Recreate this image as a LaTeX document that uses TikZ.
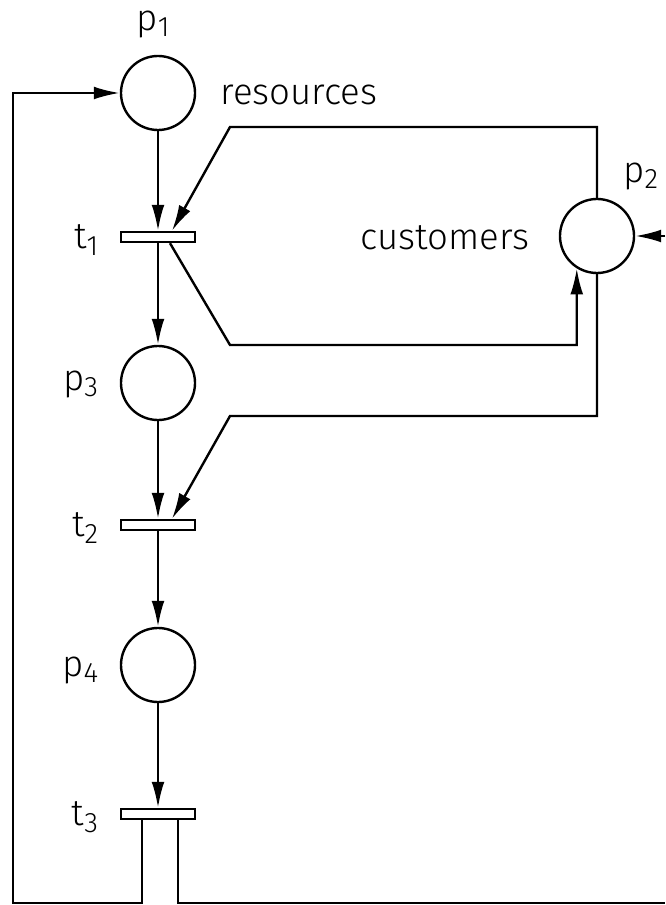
\documentclass[tikz,border=0pt]{standalone}
\usepackage{fontspec}
\setmainfont{Fira Sans}[UprightFont=* Light]
\usetikzlibrary{arrows.meta}
\newcommand\sbs[1]{\raisebox{-0.35ex}{\fontsize{20}{20}\selectfont #1}}

\begin{document}
\begin{tikzpicture}[x=0.025cm, y=-0.025cm, line width=1.7pt,
  place/.style={circle,draw,minimum size=1.85cm,inner sep=0pt},
  trans/.style={rectangle,draw,fill=white,minimum width=1.85cm,minimum height=0.25cm,inner sep=0pt},
  arc/.style={-{Latex[length=0.65cm,width=0.32cm]}},
  lab/.style={font=\fontsize{26}{30}\selectfont}]
  % Figure: resources and customers
  \useasboundingbox (0,0) rectangle (665,905);
  \node[place] (p1) at (158,93) {};
  \node[trans] (t1) at (158,237) {};
  \node[place] (p3) at (158,383) {};
  \node[trans] (t2) at (158,525) {};
  \node[place] (p4) at (158,665) {};
  \node[trans] (t3) at (158,814) {};
  \node[place] (p2) at (597,236) {};
  % Labels
  \node[lab] (lp1) at (153,24) {p\sbs{1}};
  \node[lab,anchor=east] (lp2) at (664,176) {p\sbs{2}};
  \node[lab,anchor=east] (lt1) at (104,240) {t\sbs{1}};
  \node[lab,anchor=east] (lp3) at (104,384) {p\sbs{3}};
  \node[lab,anchor=east] (lt2) at (104,528) {t\sbs{2}};
  \node[lab,anchor=east] (lp4) at (104,670) {p\sbs{4}};
  \node[lab,anchor=east] (lt3) at (104,817) {t\sbs{3}};
  \node[lab] (res) at (299,95) {resources};
  \node[lab] (cus) at (445,238) {customers};
  % Corners
  \coordinate (c1) at (230,127);
  \coordinate (c3) at (230,345);
  \coordinate (c4) at (230,416);
  \coordinate (c5) at (13,903);
  \coordinate (c6) at (665,903);
  \coordinate (c7) at (665,236);
  % Main chain
  \foreach \a/\b in {p1/t1, t1/p3, p3/t2, t2/p4, p4/t3} {
    \draw[arc] (\a) -- (\b);
  }
  % Customers loop
  \draw[arc] (p2.north) |- (c1) -- ([xshift=0.35cm]t1.north);
  \draw[arc] ([xshift=0.3cm]t1.south) -- (c3) -| (p2.-122);
  \draw[arc] (p2.south) |- (c4) -- ([xshift=0.35cm]t2.north);
  \draw[arc] (c7) -- (p2.east);
  % Back to start
  \draw[arc] ([xshift=-0.4cm]t3.south) |- (c5) |- (p1.west);
  \draw ([xshift=0.5cm]t3.south) |- (c6);
\end{tikzpicture}
\end{document}
